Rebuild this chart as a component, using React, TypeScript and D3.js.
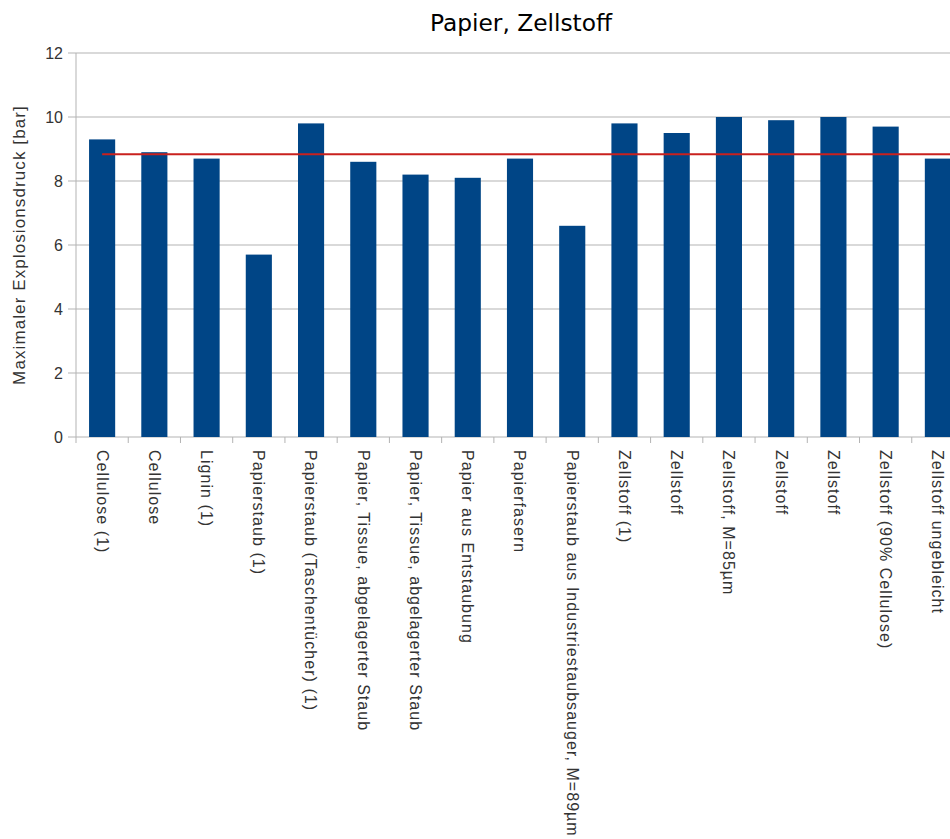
import React from "react";
import * as d3 from "d3";

const categories = [
  "Cellulose (1)",
  "Cellulose",
  "Lignin (1)",
  "Papierstaub (1)",
  "Papierstaub (Taschentücher) (1)",
  "Papier, Tissue, abgelagerter Staub",
  "Papier, Tissue, abgelagerter Staub",
  "Papier aus Entstaubung",
  "Papierfasern",
  "Papierstaub aus Industriestaubsauger, M=89µm",
  "Zellstoff (1)",
  "Zellstoff",
  "Zellstoff, M=85µm",
  "Zellstoff",
  "Zellstoff",
  "Zellstoff (90% Cellulose)",
  "Zellstoff ungebleicht",
];
const values = [9.3, 8.9, 8.7, 5.7, 9.8, 8.6, 8.2, 8.1, 8.7, 6.6, 9.8, 9.5, 10.0, 9.9, 10.0, 9.7, 8.7];
const yTicks = [0, 2, 4, 6, 8, 10, 12];
const title = "Papier, Zellstoff";
const yLabel = "Maximaler Explosionsdruck [bar]";

const W = 950;
const H = 839;
const left = 76;
const right = 964;
const top = 53;
const bottom = 437;
const font = "'Liberation Sans', Arial, sans-serif";

export default function App() {
  const idx = categories.map((_, i) => String(i));
  const x = d3.scaleBand<string>().domain(idx).range([left, right]).paddingInner(0.5).paddingOuter(0.25);
  const band = d3.scaleBand<string>().domain(idx).range([left, right]);
  const y = d3.scaleLinear().domain([0, 12]).range([bottom, top]);
  const mean = d3.mean(values) as number;
  const step = band.step();

  return (
    <svg width={W} height={H} style={{ position: "absolute", left: 0, top: 0, background: "#fff" }}>
      <rect width={W} height={H} fill="#fff" />
      <text x={521} y={31} textAnchor="middle" fontFamily="'DejaVu Sans', sans-serif" fontSize={23.3} fill="#000">
        {title}
      </text>
      {yTicks.map((t) => (
        <g key={t}>
          <line x1={left - 8} x2={right} y1={y(t)} y2={y(t)} stroke="#b3b3b3" strokeWidth={1} />
          <text x={63} y={y(t)} dy="0.35em" textAnchor="end" fontFamily={font} fontSize={16} fill="#333">
            {t}
          </text>
        </g>
      ))}
      <line x1={left} x2={left} y1={top} y2={bottom} stroke="#b3b3b3" />
      {idx.map((k, i) => (
        <line key={"t" + i} x1={band(k)!} x2={band(k)!} y1={bottom} y2={bottom + 6} stroke="#b3b3b3" />
      ))}
      {idx.map((k, i) => (
        <rect key={"b" + i} x={x(k)!} y={y(values[i])} width={x.bandwidth()} height={bottom - y(values[i])} fill="#004586" />
      ))}
      <line
        x1={band("0")! + step / 2}
        x2={right}
        y1={y(mean)}
        y2={y(mean)}
        stroke="#c9211e"
        strokeWidth={2}
      />
      {idx.map((k, i) => {
        const cx = band(k)! + step / 2;
        return (
          <text
            key={"l" + i}
            transform={`translate(${cx},450) rotate(90)`}
            dy="0.35em"
            fontFamily={font}
            fontSize={16}
            letterSpacing={1.05}
            fill="#333"
          >
            {categories[i]}
          </text>
        );
      })}
      <text
        transform={`translate(19,${(top + bottom) / 2}) rotate(-90)`}
        dy="0.35em"
        textAnchor="middle"
        fontFamily={font}
        fontSize={17}
        letterSpacing={1.1}
        fill="#333"
      >
        {yLabel}
      </text>
    </svg>
  );
}
